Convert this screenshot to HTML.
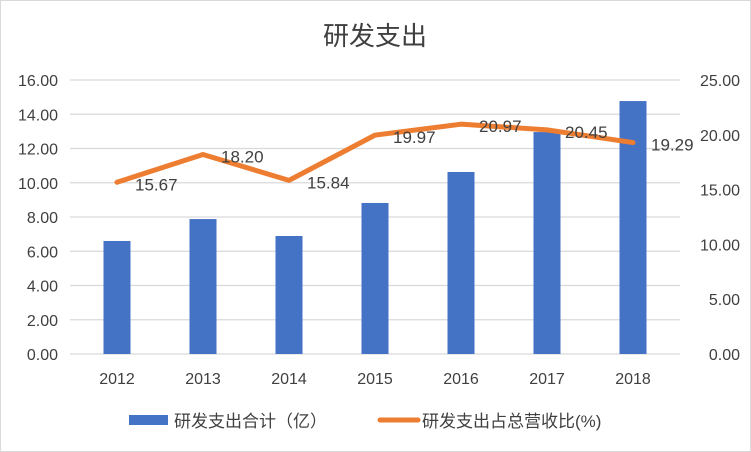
<!DOCTYPE html>
<html><head><meta charset="utf-8">
<style>
html,body{margin:0;padding:0;background:#fff;}
svg{display:block;font-family:"Liberation Sans","Noto Sans CJK SC",sans-serif;}
</style></head>
<body>
<svg id="chart" width="751" height="452" viewBox="0 0 751 452">
  <rect x="0.5" y="0.5" width="750" height="451" fill="#fff" stroke="#d9d9d9"/>
  <text x="375" y="45" text-anchor="middle" font-size="26" fill="#404040">研发支出</text>
  <g id="grid"></g>
  <g id="bars"></g>
  <g id="line"></g>
  <g id="labels"></g>
  <g id="axes"></g>
  <g>
    <rect x="129" y="415" width="39" height="10" fill="#4472c4"/>
    <text x="174" y="427" font-size="17" fill="#404040">研发支出合计（亿）</text>
    <line x1="380" y1="420" x2="418" y2="420" stroke="#ed7d31" stroke-width="5" stroke-linecap="round"/>
    <text x="422" y="427" font-size="17" fill="#404040">研发支出占总营收比(%)</text>
  </g>
</svg>
<script>
const categories = ["2012","2013","2014","2015","2016","2017","2018"];
const spending = [6.60, 7.88, 6.89, 8.82, 10.63, 12.96, 14.77];
const ratio = [15.67, 18.20, 15.84, 19.97, 20.97, 20.45, 19.29];
const leftTicks = [0,2,4,6,8,10,12,14,16];
const rightTicks = [0,5,10,15,20,25];

const NS = "http://www.w3.org/2000/svg";
const plotLeft = 74, plotRight = 676, yBase = 354, yTop = 80;
const leftMax = 16, rightMax = 25;
const band = (plotRight - plotLeft) / categories.length;
const xC = i => plotLeft + band * (i + 0.5);
const yL = v => yBase - (v / leftMax) * (yBase - yTop);
const yR = v => yBase - (v / rightMax) * (yBase - yTop);
function mk(tag, attrs, parent, text){
  const el = document.createElementNS(NS, tag);
  for (const k in attrs) el.setAttribute(k, attrs[k]);
  if (text !== undefined) el.textContent = text;
  parent.appendChild(el);
  return el;
}
const grid = document.getElementById('grid');
const axes = document.getElementById('axes');
leftTicks.forEach(t => {
  const y = yL(t);
  const ln = mk('line', {x1: plotLeft - 4, x2: plotRight + 4, y1: y, y2: y, stroke: '#d9d9d9', 'stroke-width': 1.2}, grid);
  
  
  const tx = mk('text', {x: 58, y: y + 6, 'text-anchor': 'end', 'font-size': 16, fill: '#404040'}, axes, t.toFixed(2));
  
  
});
rightTicks.forEach(t => {
  const tx = mk('text', {x: 740, y: yR(t) + 6, 'text-anchor': 'end', 'font-size': 16, fill: '#404040'}, axes, t.toFixed(2));
  
  
});
categories.forEach((c, i) => {
  const tx = mk('text', {x: xC(i), y: 384, 'text-anchor': 'middle', 'font-size': 16, fill: '#404040'}, axes, c);
  
  
});
const bars = document.getElementById('bars');
const bw = 27;
spending.forEach((v, i) => {
  const r = mk('rect', {x: xC(i) - bw/2, y: yL(v), width: bw, height: yBase - yL(v), fill: '#4472c4'}, bars);
  
  
});
const lineG = document.getElementById('line');
const pts = ratio.map((v, i) => xC(i) + ',' + yR(v)).join(' ');
const pl = mk('polyline', {points: pts, fill: 'none', stroke: '#ed7d31', 'stroke-width': 5, 'stroke-linejoin': 'round', 'stroke-linecap': 'round'}, lineG);


const labels = document.getElementById('labels');
ratio.forEach((v, i) => {
  const tx = mk('text', {x: xC(i) + 18, y: yR(v) + 8, 'font-size': 17, fill: '#404040'}, labels, v.toFixed(2));
  
  
});
</script>
</body></html>
